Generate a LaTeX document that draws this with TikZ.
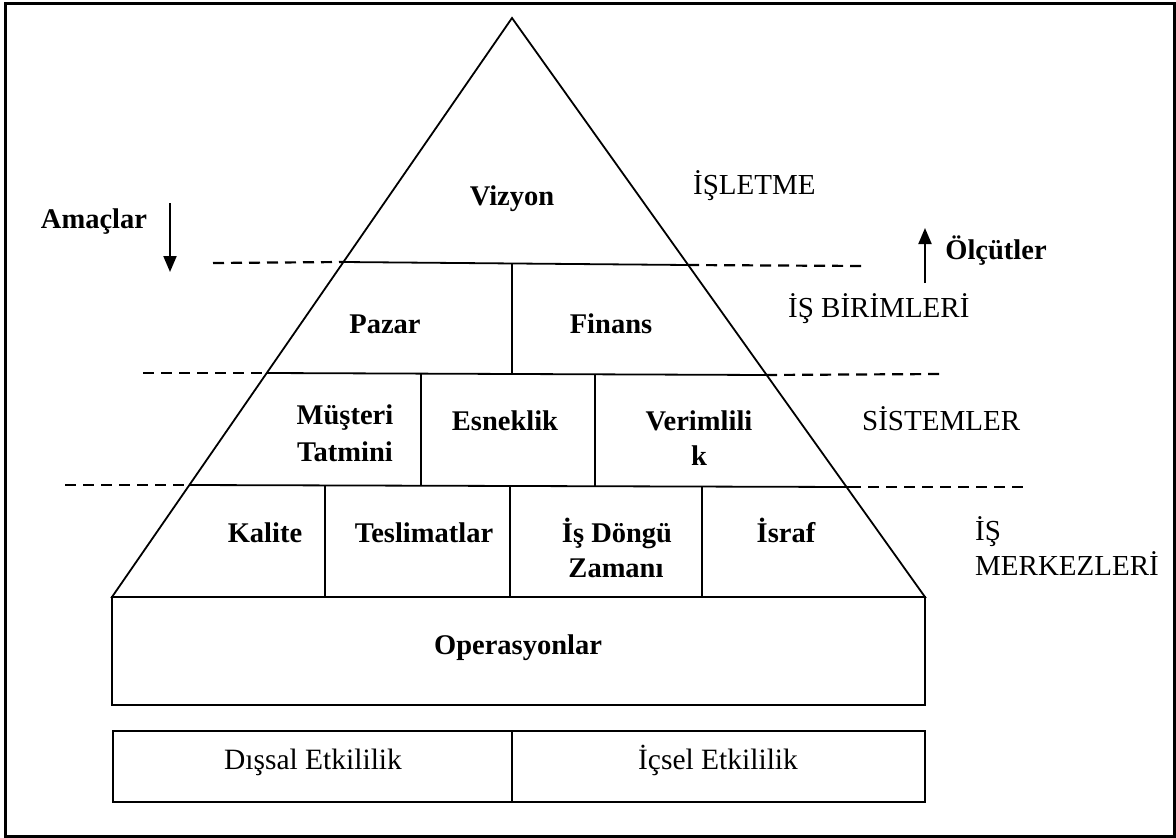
\documentclass[tikz,border=0pt]{standalone}
\usepackage{fontspec}
\setmainfont{Liberation Serif}
\usetikzlibrary{arrows.meta}
\begin{document}
\begin{tikzpicture}[x=1pt,y=-1pt,
  edge/.style={line width=1.8pt},
  guide/.style={line width=2.2pt, dash pattern=on 11pt off 7pt},
  flow/.style={line width=2pt, -{Triangle[length=16pt,width=13pt]}},
  bold/.style={anchor=base, inner sep=0pt, font=\fontsize{28.5}{34}\selectfont\bfseries},
  plain/.style={anchor=base, inner sep=0pt, font=\fontsize{29.5}{34}\selectfont},
  level/.style={anchor=base west, inner sep=0pt, font=\fontsize{29}{34}\selectfont}]
\useasboundingbox (0,0) rectangle (1176,838);
% outer frame
\draw[line width=3pt] (5,3) rectangle (1174.5,836);

% pyramid outline
\coordinate (apex) at (512,18);
\coordinate (bl) at (112,597);
\coordinate (br) at (925,597);
\draw[edge] (bl) -- (apex) -- (br) -- cycle;

% level separators inside the pyramid
\coordinate (a1) at (343,262);  \coordinate (b1) at (688,265);
\coordinate (a2) at (267,373);  \coordinate (b2) at (766,375);
\coordinate (a3) at (189,485);  \coordinate (b3) at (850,487);
\draw[edge] (a1) -- (b1);
\draw[edge] (a2) -- (b2);
\draw[edge] (a3) -- (b3);

% dashed extensions
\coordinate (d1l) at (213,263);  \coordinate (d1r) at (865,266);
\coordinate (d2l) at (143,373);  \coordinate (d2r) at (940,374);
\coordinate (d3l) at (65,485);   \coordinate (d3r) at (1026,487);
\draw[guide] (d1l) -- (a1);  \draw[guide] (b1) -- (d1r);
\draw[guide] (d2l) -- (a2);  \draw[guide] (b2) -- (d2r);
\draw[guide] (d3l) -- (a3);  \draw[guide] (b3) -- (d3r);

% cell dividers
\draw[edge] (512,264) -- (512,374);
\draw[edge] (421,374) -- (421,486);
\draw[edge] (595,375) -- (595,486);
\draw[edge] (325,486) -- (325,597);
\draw[edge] (510,486) -- (510,597);
\draw[edge] (702,487) -- (702,597);

% operations block
\coordinate (opsbr) at (925,705);
\draw[edge] (bl) rectangle (opsbr);

% effectiveness block
\coordinate (eff1) at (113,731);
\coordinate (eff2) at (925,802);
\draw[edge] (eff1) rectangle (eff2);
\draw[edge] (512,731) -- (512,802);

% arrows
\coordinate (amTop) at (170,203);
\coordinate (amTip) at (170,272);
\coordinate (olBot) at (925,283);
\coordinate (olTip) at (925,228);
\draw[flow] (amTop) -- (amTip);
\draw[flow] (olBot) -- (olTip);

% texts
\node[bold] (vizyon) at (512,205) {Vizyon};
\node[bold] (amaclar) at (94,228) {Amaçlar};
\node[bold] (olcutler) at (996,259) {Ölçütler};
\node[bold] (pazar) at (385,333) {Pazar};
\node[bold] (finans) at (611,333) {Finans};
\node[bold] (musteri1) at (345,424) {Müşteri};
\node[bold] (musteri2) at (345,461) {Tatmini};
\node[bold] (esneklik) at (505,430) {Esneklik};
\node[bold] (verim1) at (699,430) {Verimlili};
\node[bold] (verim2) at (699,465) {k};
\node[bold] (kalite) at (265,542) {Kalite};
\node[bold] (teslim) at (424,542) {Teslimatlar};
\node[bold] (dongu1) at (617,542) {İş Döngü};
\node[bold] (dongu2) at (616,577) {Zamanı};
\node[bold] (israf) at (786,542) {İsraf};
\node[bold] (ops) at (518,654) {Operasyonlar};
\node[plain] (dis) at (313,769) {Dışsal Etkililik};
\node[plain] (ic) at (718,769) {İçsel Etkililik};

\node[level] (isletme) at (693,194) {İŞLETME};
\node[level] (birim) at (788,317) {İŞ BİRİMLERİ};
\node[level] (sistem) at (862,430) {SİSTEMLER};
\node[level] (merkez1) at (975,540) {İŞ};
\node[level] (merkez2) at (975,575) {MERKEZLERİ};
\end{tikzpicture}
\end{document}
